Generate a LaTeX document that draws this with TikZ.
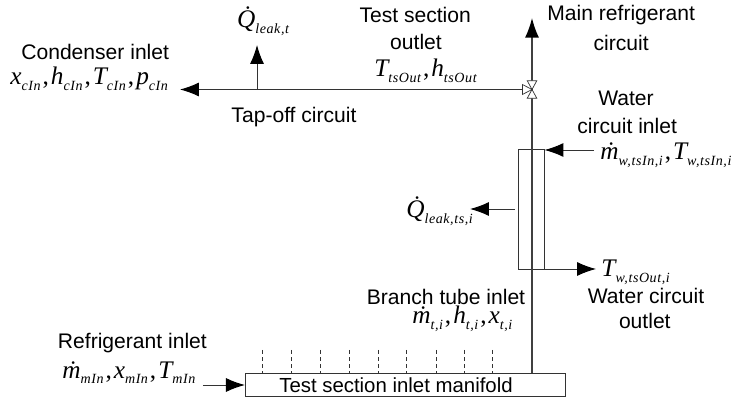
\documentclass[tikz,border=0pt]{standalone}
\usepackage{fontspec}
\setmainfont{Liberation Sans}
\newfontfamily\symfont{Liberation Serif}
\usepackage{xcolor}
\usetikzlibrary{arrows.meta, calc}

% italic symbol with its subscript
\newcommand{\flowsym}[2]{{\symfont\itshape\fontsize{18}{18}\selectfont #1}\raisebox{-4pt}{\symfont\itshape\fontsize{10}{10}\selectfont\addfontfeature{LetterSpace=4} #2}}
\newcommand{\flowsep}{\hspace{1.4pt}{\symfont\fontsize{18}{18}\selectfont ,}\hspace{1.4pt}}

\tikzset{
    pipe/.style={draw=black!80, line width=0.7pt},
    mainpipe/.style={draw=black!75, line width=1pt},
    flow/.style={pipe, -{Latex[length=13.5pt, width=10pt, color=black]}},
    caption/.style={font=\fontsize{15}{15}\selectfont, inner sep=0pt, anchor=center},
    tightcaption/.style={caption, font=\fontsize{14.5}{15}\selectfont},
    symbols/.style={inner sep=0pt, anchor=base west},
    valvepart/.style={draw=black!80, line width=0.5pt, fill=white},
}

\begin{document}
\begin{tikzpicture}
    \useasboundingbox (0, 0) rectangle (18.4, 10.05);

    \node[draw=black!80, line width=0.7pt, minimum width=8.01cm, minimum height=0.575cm, inner sep=0pt] (manifold) at (10.14, 0.4375) {};
    \node[tightcaption] (manifoldText) at (9.9, 0.43) {Test section inlet manifold};
    \node[draw=black!80, line width=0.7pt, minimum width=0.64cm, minimum height=2.99cm, inner sep=0pt] (exchanger) at (13.28, 4.82) {};

    \coordinate (valve) at (13.3, 7.8125);
    \coordinate (mainOut) at (13.3, 9.6);
    \coordinate (mainIn) at (13.3, 0.725);
    \coordinate (condenser) at (4.5, 7.8125);
    \coordinate (tapRoot) at (6.425, 7.8125);
    \coordinate (tapTop) at (6.425, 8.925);
    \coordinate (waterIn) at (14.85, 6.3);
    \coordinate (waterOut) at (14.9, 3.325);
    \coordinate (leakStart) at (12.87, 4.825);
    \coordinate (leakEnd) at (11.75, 4.825);
    \coordinate (refIn) at (5.07, 0.425);

    % main pipes
    \draw[mainpipe] (mainIn) -- (valve);
    \draw[mainpipe, -{Latex[length=14pt, width=10pt, color=black]}] (valve) -- (mainOut);
    \draw[flow] (valve) -- (condenser);
    \draw[flow] (tapRoot) -- (tapTop);

    % test section
    \draw[flow] (waterIn) -- (waterIn -| exchanger.east);
    \draw[flow] (waterOut -| exchanger.east) -- (waterOut);
    \draw[flow] (leakStart) -- (leakEnd);
    \draw[flow] (refIn) -- (refIn -| manifold.west);

    % branch tubes
    \foreach \x [count=\n] in {6.55, 7.29, 8.0, 8.73, 9.45, 10.15, 10.9, 11.6, 12.32} {
        \coordinate (branch\n) at (\x, 1.3);
        \draw[pipe, densely dashed, line width=0.5pt] (branch\n) -- (branch\n |- manifold.north);
    }

    %%%

    \draw[valvepart] ($(valve)+(-0.12, 0.22)$) -- ++(0.24, 0) -- ++(-0.12, -0.22) -- cycle;
    \draw[valvepart] ($(valve)+(-0.12, -0.22)$) -- ++(0.24, 0) -- ++(-0.12, 0.22) -- cycle;
    \draw[valvepart] ($(valve)+(-0.24, 0.125)$) -- ++(0, -0.25) -- ++(0.24, 0.125) -- cycle;

    %%%

    \node[caption] (condenserText) at (2.38, 8.75) {Condenser inlet};
    \node[symbols] (condenserSym) at (0.25, 7.925) {\flowsym{x}{cIn}\flowsep\flowsym{h}{cIn}\flowsep\flowsym{T}{cIn}\flowsep\flowsym{p}{cIn}};
    \node[symbols] (tapSym) at (5.92, 9.35) {\flowsym{\.Q}{leak,t}};
    \node[caption] (tapText) at (7.35, 7.13) {Tap-off circuit};
    \node[caption] (outletText) at (10.38, 9.68) {Test section};
    \node[caption] (outletTextB) at (10.4, 9.0) {outlet};
    \node[symbols] (outletSym) at (9.35, 8.125) {\flowsym{T}{tsOut}\flowsep\flowsym{h}{tsOut}};
    \node[caption] (mainText) at (15.53, 9.68) {Main refrigerant};
    \node[caption] (mainTextB) at (15.53, 8.98) {circuit};
    \node[caption] (waterInText) at (15.65, 7.58) {Water};
    \node[caption] (waterInTextB) at (15.68, 6.9) {circuit inlet};
    \node[symbols] (waterInSym) at (15.0, 6.05) {\flowsym{\.m}{w,tsIn,i}\flowsep\flowsym{T}{w,tsIn,i}};
    \node[symbols] (leakSym) at (10.15, 4.6) {\flowsym{\.Q}{leak,ts,i}};
    \node[symbols] (waterOutSym) at (15.03, 3.125) {\flowsym{T}{w,tsOut,i}};
    \node[caption] (waterOutText) at (16.15, 2.65) {Water circuit};
    \node[caption] (waterOutTextB) at (16.12, 2.02) {outlet};
    \node[caption] (branchText) at (11.15, 2.62) {Branch tube inlet};
    \node[symbols] (branchSym) at (10.3, 1.95) {\flowsym{\.m}{t,i}\flowsep\flowsym{h}{t,i}\flowsep\flowsym{x}{t,i}};
    \node[caption] (refText) at (3.31, 1.48) {Refrigerant inlet};
    \node[symbols] (refSym) at (1.55, 0.6) {\flowsym{\.m}{mIn}\flowsep\flowsym{x}{mIn}\flowsep\flowsym{T}{mIn}};
\end{tikzpicture}
\end{document}
